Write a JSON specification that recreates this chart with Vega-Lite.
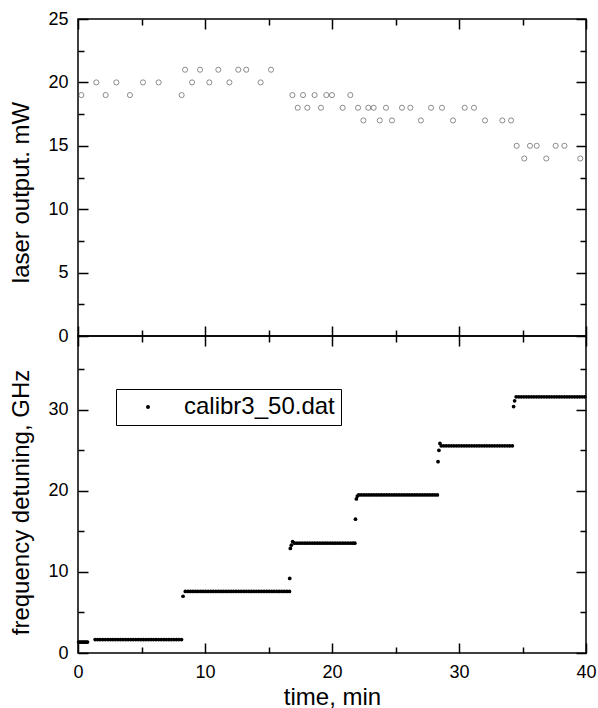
{
  "$schema": "https://vega.github.io/schema/vega-lite/v6.json",
  "padding": {"left": 9, "top": 9, "right": 0, "bottom": 3},
  "spacing": 0,
  "bounds": "flush",
  "config": {
    "font": "Liberation Sans",
    "view": {"stroke": "black", "strokeWidth": 1.5},
    "axis": {
      "grid": false,
      "domain": false,
      "tickColor": "black",
      "tickWidth": 1.5,
      "tickOpacity": 1,
      "labelColor": "black",
      "titleColor": "black",
      "labelFontSize": 18,
      "titleFontSize": 24,
      "titleFontWeight": "normal",
      "labelFlush": false,
      "labelOverlap": false,
      "labelPadding": 10,
      "minExtent": 0
    },
    "axisX": {"ticks": true, "tickWidth": 1.5, "tickOpacity": 1, "tickColor": "black"},
    "axisY": {"ticks": true, "tickWidth": 1.5, "tickOpacity": 1, "tickColor": "black"}
  },
  "resolve": {"legend": {"color": "independent"}},
  "datasets": {
    "laser": [
      {"t": 0.26, "p": 19}, {"t": 1.44, "p": 20}, {"t": 2.18, "p": 19}, {"t": 3.02, "p": 20},
      {"t": 4.09, "p": 19}, {"t": 5.12, "p": 20}, {"t": 6.35, "p": 20}, {"t": 8.16, "p": 19},
      {"t": 8.43, "p": 21}, {"t": 8.98, "p": 20}, {"t": 9.61, "p": 21}, {"t": 10.34, "p": 20},
      {"t": 11.05, "p": 21}, {"t": 11.92, "p": 20}, {"t": 12.62, "p": 21}, {"t": 13.25, "p": 21},
      {"t": 14.38, "p": 20}, {"t": 15.2, "p": 21}, {"t": 16.88, "p": 19}, {"t": 17.3, "p": 18},
      {"t": 17.72, "p": 19}, {"t": 18.06, "p": 18}, {"t": 18.63, "p": 19}, {"t": 19.13, "p": 18},
      {"t": 19.55, "p": 19}, {"t": 20.0, "p": 19}, {"t": 20.84, "p": 18}, {"t": 21.44, "p": 19},
      {"t": 22.05, "p": 18}, {"t": 22.47, "p": 17}, {"t": 22.86, "p": 18}, {"t": 23.28, "p": 18},
      {"t": 23.76, "p": 17}, {"t": 24.25, "p": 18}, {"t": 24.72, "p": 17}, {"t": 25.51, "p": 18},
      {"t": 26.17, "p": 18}, {"t": 27.0, "p": 17}, {"t": 27.8, "p": 18}, {"t": 28.66, "p": 18},
      {"t": 29.53, "p": 17}, {"t": 30.45, "p": 18}, {"t": 31.18, "p": 18}, {"t": 32.05, "p": 17},
      {"t": 33.41, "p": 17}, {"t": 34.1, "p": 17}, {"t": 34.54, "p": 15}, {"t": 35.14, "p": 14},
      {"t": 35.59, "p": 15}, {"t": 36.12, "p": 15}, {"t": 36.87, "p": 14}, {"t": 37.61, "p": 15},
      {"t": 38.3, "p": 15}, {"t": 39.55, "p": 14}
    ],
    "freq": [
      {"t": 0.05, "f": 1.35}, {"t": 0.15, "f": 1.35}, {"t": 0.25, "f": 1.35}, {"t": 0.35, "f": 1.35},
      {"t": 0.45, "f": 1.35}, {"t": 0.55, "f": 1.35}, {"t": 0.65, "f": 1.35}, {"t": 0.75, "f": 1.35},
      {"t": 1.35, "f": 1.65}, {"t": 1.55, "f": 1.65}, {"t": 1.75, "f": 1.65}, {"t": 1.95, "f": 1.65},
      {"t": 2.15, "f": 1.65}, {"t": 2.35, "f": 1.65}, {"t": 2.55, "f": 1.65}, {"t": 2.75, "f": 1.65},
      {"t": 2.95, "f": 1.65}, {"t": 3.15, "f": 1.65}, {"t": 3.35, "f": 1.65}, {"t": 3.55, "f": 1.65},
      {"t": 3.75, "f": 1.65}, {"t": 3.95, "f": 1.65}, {"t": 4.15, "f": 1.65}, {"t": 4.35, "f": 1.65},
      {"t": 4.55, "f": 1.65}, {"t": 4.75, "f": 1.65}, {"t": 4.95, "f": 1.65}, {"t": 5.15, "f": 1.65},
      {"t": 5.35, "f": 1.65}, {"t": 5.55, "f": 1.65}, {"t": 5.75, "f": 1.65}, {"t": 5.95, "f": 1.65},
      {"t": 6.15, "f": 1.65}, {"t": 6.35, "f": 1.65}, {"t": 6.55, "f": 1.65}, {"t": 6.75, "f": 1.65},
      {"t": 6.95, "f": 1.65}, {"t": 7.15, "f": 1.65}, {"t": 7.35, "f": 1.65}, {"t": 7.55, "f": 1.65},
      {"t": 7.75, "f": 1.65}, {"t": 7.95, "f": 1.65}, {"t": 8.15, "f": 1.65},
      {"t": 8.27, "f": 7.0},
      {"t": 8.45, "f": 7.6}, {"t": 8.65, "f": 7.6}, {"t": 8.85, "f": 7.6}, {"t": 9.05, "f": 7.6},
      {"t": 9.25, "f": 7.6}, {"t": 9.45, "f": 7.6}, {"t": 9.65, "f": 7.6}, {"t": 9.85, "f": 7.6},
      {"t": 10.05, "f": 7.6}, {"t": 10.25, "f": 7.6}, {"t": 10.45, "f": 7.6}, {"t": 10.65, "f": 7.6},
      {"t": 10.85, "f": 7.6}, {"t": 11.05, "f": 7.6}, {"t": 11.25, "f": 7.6}, {"t": 11.45, "f": 7.6},
      {"t": 11.65, "f": 7.6}, {"t": 11.85, "f": 7.6}, {"t": 12.05, "f": 7.6}, {"t": 12.25, "f": 7.6},
      {"t": 12.45, "f": 7.6}, {"t": 12.65, "f": 7.6}, {"t": 12.85, "f": 7.6}, {"t": 13.05, "f": 7.6},
      {"t": 13.25, "f": 7.6}, {"t": 13.45, "f": 7.6}, {"t": 13.65, "f": 7.6}, {"t": 13.85, "f": 7.6},
      {"t": 14.05, "f": 7.6}, {"t": 14.25, "f": 7.6}, {"t": 14.45, "f": 7.6}, {"t": 14.65, "f": 7.6},
      {"t": 14.85, "f": 7.6}, {"t": 15.05, "f": 7.6}, {"t": 15.25, "f": 7.6}, {"t": 15.45, "f": 7.6},
      {"t": 15.65, "f": 7.6}, {"t": 15.85, "f": 7.6}, {"t": 16.05, "f": 7.6}, {"t": 16.25, "f": 7.6},
      {"t": 16.45, "f": 7.6}, {"t": 16.65, "f": 7.6},
      {"t": 16.67, "f": 9.2}, {"t": 16.72, "f": 12.9}, {"t": 16.8, "f": 13.3}, {"t": 16.9, "f": 13.75},
      {"t": 17.05, "f": 13.55}, {"t": 17.25, "f": 13.55}, {"t": 17.45, "f": 13.55}, {"t": 17.65, "f": 13.55},
      {"t": 17.85, "f": 13.55}, {"t": 18.05, "f": 13.55}, {"t": 18.25, "f": 13.55}, {"t": 18.45, "f": 13.55},
      {"t": 18.65, "f": 13.55}, {"t": 18.85, "f": 13.55}, {"t": 19.05, "f": 13.55}, {"t": 19.25, "f": 13.55},
      {"t": 19.45, "f": 13.55}, {"t": 19.65, "f": 13.55}, {"t": 19.85, "f": 13.55}, {"t": 20.05, "f": 13.55},
      {"t": 20.25, "f": 13.55}, {"t": 20.45, "f": 13.55}, {"t": 20.65, "f": 13.55}, {"t": 20.85, "f": 13.55},
      {"t": 21.05, "f": 13.55}, {"t": 21.25, "f": 13.55}, {"t": 21.45, "f": 13.55}, {"t": 21.65, "f": 13.55},
      {"t": 21.8, "f": 13.55},
      {"t": 21.85, "f": 16.5}, {"t": 21.92, "f": 19.0}, {"t": 22.0, "f": 19.35},
      {"t": 22.1, "f": 19.5}, {"t": 22.3, "f": 19.5}, {"t": 22.5, "f": 19.5}, {"t": 22.7, "f": 19.5},
      {"t": 22.9, "f": 19.5}, {"t": 23.1, "f": 19.5}, {"t": 23.3, "f": 19.5}, {"t": 23.5, "f": 19.5},
      {"t": 23.7, "f": 19.5}, {"t": 23.9, "f": 19.5}, {"t": 24.1, "f": 19.5}, {"t": 24.3, "f": 19.5},
      {"t": 24.5, "f": 19.5}, {"t": 24.7, "f": 19.5}, {"t": 24.9, "f": 19.5}, {"t": 25.1, "f": 19.5},
      {"t": 25.3, "f": 19.5}, {"t": 25.5, "f": 19.5}, {"t": 25.7, "f": 19.5}, {"t": 25.9, "f": 19.5},
      {"t": 26.1, "f": 19.5}, {"t": 26.3, "f": 19.5}, {"t": 26.5, "f": 19.5}, {"t": 26.7, "f": 19.5},
      {"t": 26.9, "f": 19.5}, {"t": 27.1, "f": 19.5}, {"t": 27.3, "f": 19.5}, {"t": 27.5, "f": 19.5},
      {"t": 27.7, "f": 19.5}, {"t": 27.9, "f": 19.5}, {"t": 28.1, "f": 19.5}, {"t": 28.3, "f": 19.5},
      {"t": 28.35, "f": 23.6}, {"t": 28.42, "f": 25.0}, {"t": 28.5, "f": 25.85},
      {"t": 28.6, "f": 25.55}, {"t": 28.8, "f": 25.55}, {"t": 29.0, "f": 25.55}, {"t": 29.2, "f": 25.55},
      {"t": 29.4, "f": 25.55}, {"t": 29.6, "f": 25.55}, {"t": 29.8, "f": 25.55}, {"t": 30.0, "f": 25.55},
      {"t": 30.2, "f": 25.55}, {"t": 30.4, "f": 25.55}, {"t": 30.6, "f": 25.55}, {"t": 30.8, "f": 25.55},
      {"t": 31.0, "f": 25.55}, {"t": 31.2, "f": 25.55}, {"t": 31.4, "f": 25.55}, {"t": 31.6, "f": 25.55},
      {"t": 31.8, "f": 25.55}, {"t": 32.0, "f": 25.55}, {"t": 32.2, "f": 25.55}, {"t": 32.4, "f": 25.55},
      {"t": 32.6, "f": 25.55}, {"t": 32.8, "f": 25.55}, {"t": 33.0, "f": 25.55}, {"t": 33.2, "f": 25.55},
      {"t": 33.4, "f": 25.55}, {"t": 33.6, "f": 25.55}, {"t": 33.8, "f": 25.55}, {"t": 34.0, "f": 25.55},
      {"t": 34.2, "f": 25.55},
      {"t": 34.3, "f": 30.4}, {"t": 34.38, "f": 31.1},
      {"t": 34.5, "f": 31.6}, {"t": 34.7, "f": 31.6}, {"t": 34.9, "f": 31.6}, {"t": 35.1, "f": 31.6},
      {"t": 35.3, "f": 31.6}, {"t": 35.5, "f": 31.6}, {"t": 35.7, "f": 31.6}, {"t": 35.9, "f": 31.6},
      {"t": 36.1, "f": 31.6}, {"t": 36.3, "f": 31.6}, {"t": 36.5, "f": 31.6}, {"t": 36.7, "f": 31.6},
      {"t": 36.9, "f": 31.6}, {"t": 37.1, "f": 31.6}, {"t": 37.3, "f": 31.6}, {"t": 37.5, "f": 31.6},
      {"t": 37.7, "f": 31.6}, {"t": 37.9, "f": 31.6}, {"t": 38.1, "f": 31.6}, {"t": 38.3, "f": 31.6},
      {"t": 38.5, "f": 31.6}, {"t": 38.7, "f": 31.6}, {"t": 38.9, "f": 31.6}, {"t": 39.1, "f": 31.6},
      {"t": 39.3, "f": 31.6}, {"t": 39.5, "f": 31.6}, {"t": 39.7, "f": 31.6}, {"t": 39.9, "f": 31.6}
    ]
  },
  "vconcat": [
    {
      "width": 508,
      "height": 317,
      "data": {"name": "laser"},
      "resolve": {"axis": {"x": "independent", "y": "independent"}},
      "layer": [
        {
          "mark": {"type": "point", "shape": "circle", "filled": false, "size": 26, "stroke": "#333333", "strokeWidth": 0.8},
          "encoding": {
            "x": {"field": "t", "type": "quantitative", "scale": {"domain": [0, 40], "nice": false, "zero": false},
              "axis": {"orient": "bottom", "values": [0, 10, 20, 30, 40], "labels": false, "ticks": true, "tickSize": 10, "offset": -10, "tickWidth": 1.5, "tickOpacity": 1, "tickColor": "black", "title": null}},
            "y": {"field": "p", "type": "quantitative", "scale": {"domain": [0, 25], "nice": false, "zero": false},
              "axis": {"orient": "left", "values": [0, 5, 10, 15, 20, 25], "ticks": true, "tickSize": 10, "offset": -10, "tickWidth": 1.5, "tickOpacity": 1, "tickColor": "black", "labelPadding": 10,
                "title": "laser output. mW", "titlePadding": 14, "titleY": 173}}
          }
        },
        {
          "data": {"values": []},
          "mark": {"type": "point", "opacity": 0},
          "encoding": {
            "x": {"field": "t", "type": "quantitative", "scale": {"domain": [0, 40], "nice": false, "zero": false},
              "axis": {"orient": "top", "values": [0, 10, 20, 30, 40], "labels": false, "title": null, "ticks": true, "tickWidth": 1.5, "tickOpacity": 1, "tickColor": "black", "tickSize": 10, "offset": -10}},
            "y": {"field": "p", "type": "quantitative", "scale": {"domain": [0, 25], "nice": false, "zero": false},
              "axis": {"orient": "right", "values": [0, 5, 10, 15, 20, 25], "labels": false, "title": null, "ticks": true, "tickWidth": 1.5, "tickOpacity": 1, "tickColor": "black", "tickSize": 10, "offset": -10}}
          }
        },
        {
          "data": {"values": []},
          "mark": {"type": "point", "opacity": 0},
          "encoding": {
            "x": {"field": "t", "type": "quantitative", "scale": {"domain": [0, 40], "nice": false, "zero": false},
              "axis": {"orient": "bottom", "values": [5, 15, 25, 35], "labels": false, "title": null, "ticks": true, "tickWidth": 1.5, "tickOpacity": 1, "tickColor": "black", "tickSize": 6, "offset": -6}},
            "y": {"field": "p", "type": "quantitative", "scale": {"domain": [0, 25], "nice": false, "zero": false},
              "axis": {"orient": "left", "values": [2.5, 7.5, 12.5, 17.5, 22.5], "labels": false, "title": null, "ticks": true, "tickWidth": 1.5, "tickOpacity": 1, "tickColor": "black", "tickSize": 6, "offset": -6}}
          }
        },
        {
          "data": {"values": []},
          "mark": {"type": "point", "opacity": 0},
          "encoding": {
            "x": {"field": "t", "type": "quantitative", "scale": {"domain": [0, 40], "nice": false, "zero": false},
              "axis": {"orient": "top", "values": [5, 15, 25, 35], "labels": false, "title": null, "ticks": true, "tickWidth": 1.5, "tickOpacity": 1, "tickColor": "black", "tickSize": 6, "offset": -6}},
            "y": {"field": "p", "type": "quantitative", "scale": {"domain": [0, 25], "nice": false, "zero": false},
              "axis": {"orient": "right", "values": [2.5, 7.5, 12.5, 17.5, 22.5], "labels": false, "title": null, "ticks": true, "tickWidth": 1.5, "tickOpacity": 1, "tickColor": "black", "tickSize": 6, "offset": -6}}
          }
        }
      ]
    },
    {
      "width": 508,
      "height": 317,
      "data": {"name": "freq"},
      "resolve": {"axis": {"x": "independent", "y": "independent"}},
      "layer": [
        {
          "mark": {"type": "point", "shape": "circle", "filled": true, "size": 14, "opacity": 1},
          "encoding": {
            "x": {"field": "t", "type": "quantitative", "scale": {"domain": [0, 40], "nice": false, "zero": false},
              "axis": {"orient": "bottom", "values": [0, 10, 20, 30, 40], "ticks": true, "tickSize": 10, "offset": -10, "tickWidth": 1.5, "tickOpacity": 1, "tickColor": "black", "labelPadding": 10,
                "title": "time, min", "titlePadding": 4}},
            "y": {"field": "f", "type": "quantitative", "scale": {"domain": [0, 39.1], "nice": false, "zero": false},
              "axis": {"orient": "left", "values": [0, 10, 20, 30], "ticks": true, "tickSize": 10, "offset": -10, "tickWidth": 1.5, "tickOpacity": 1, "tickColor": "black", "labelPadding": 10,
                "title": "frequency detuning, GHz", "titlePadding": 14, "titleY": 166}},
            "color": {"datum": "calibr3_50.dat", "type": "nominal", "scale": {"range": ["black"]},
              "legend": {"orient": "none", "legendX": 38, "legendY": 53, "title": null, "strokeColor": "black",
                "fillColor": "white", "padding": 6, "labelFontSize": 24, "labelColor": "black", "symbolType": "circle",
                "symbolSize": 16, "symbolFillColor": "black", "symbolStrokeWidth": 0, "symbolOffset": 14, "labelOffset": 24}}
          }
        },
        {
          "data": {"values": []},
          "mark": {"type": "point", "opacity": 0},
          "encoding": {
            "x": {"field": "t", "type": "quantitative", "scale": {"domain": [0, 40], "nice": false, "zero": false},
              "axis": {"orient": "top", "values": [0, 10, 20, 30, 40], "labels": false, "title": null, "ticks": true, "tickWidth": 1.5, "tickOpacity": 1, "tickColor": "black", "tickSize": 10, "offset": -10}},
            "y": {"field": "f", "type": "quantitative", "scale": {"domain": [0, 39.1], "nice": false, "zero": false},
              "axis": {"orient": "right", "values": [0, 10, 20, 30], "labels": false, "title": null, "ticks": true, "tickWidth": 1.5, "tickOpacity": 1, "tickColor": "black", "tickSize": 10, "offset": -10}}
          }
        },
        {
          "data": {"values": []},
          "mark": {"type": "point", "opacity": 0},
          "encoding": {
            "x": {"field": "t", "type": "quantitative", "scale": {"domain": [0, 40], "nice": false, "zero": false},
              "axis": {"orient": "bottom", "values": [5, 15, 25, 35], "labels": false, "title": null, "ticks": true, "tickWidth": 1.5, "tickOpacity": 1, "tickColor": "black", "tickSize": 6, "offset": -6}},
            "y": {"field": "f", "type": "quantitative", "scale": {"domain": [0, 39.1], "nice": false, "zero": false},
              "axis": {"orient": "left", "values": [5, 15, 25, 35], "labels": false, "title": null, "ticks": true, "tickWidth": 1.5, "tickOpacity": 1, "tickColor": "black", "tickSize": 6, "offset": -6}}
          }
        },
        {
          "data": {"values": []},
          "mark": {"type": "point", "opacity": 0},
          "encoding": {
            "x": {"field": "t", "type": "quantitative", "scale": {"domain": [0, 40], "nice": false, "zero": false},
              "axis": {"orient": "top", "values": [5, 15, 25, 35], "labels": false, "title": null, "ticks": true, "tickWidth": 1.5, "tickOpacity": 1, "tickColor": "black", "tickSize": 6, "offset": -6}},
            "y": {"field": "f", "type": "quantitative", "scale": {"domain": [0, 39.1], "nice": false, "zero": false},
              "axis": {"orient": "right", "values": [5, 15, 25, 35], "labels": false, "title": null, "ticks": true, "tickWidth": 1.5, "tickOpacity": 1, "tickColor": "black", "tickSize": 6, "offset": -6}}
          }
        }
      ]
    }
  ]
}
